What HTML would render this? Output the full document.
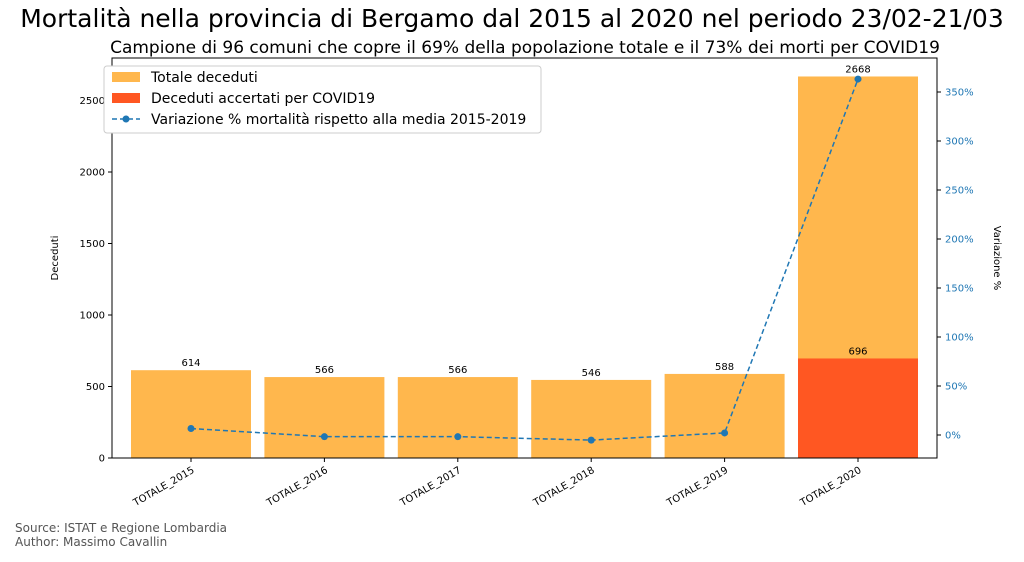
<!DOCTYPE html>
<html><head><meta charset="utf-8"><style>
body{margin:0;background:#fff;font-family:"Liberation Sans","DejaVu Sans",sans-serif}
svg text{font-family:"DejaVu Sans","Liberation Sans",sans-serif}
</style></head><body>
<svg width="1024" height="557" xmlns="http://www.w3.org/2000/svg" id="chart">
<text x="512" y="27" font-size="25" text-anchor="middle">Mortalità nella provincia di Bergamo dal 2015 al 2020 nel periodo 23/02-21/03</text>
<text x="525" y="53" font-size="17" text-anchor="middle">Campione di 96 comuni che copre il 69% della popolazione totale e il 73% dei morti per COVID19</text>
<g id="plot"></g>
<text transform="translate(58,258) rotate(-90)" font-size="10" text-anchor="middle">Deceduti</text>
<text transform="translate(994,258) rotate(90)" font-size="10" text-anchor="middle">Variazione %</text>
<text x="15" y="532" font-size="12" fill="#555">Source: ISTAT e Regione Lombardia</text>
<text x="15" y="546" font-size="12" fill="#555">Author: Massimo Cavallin</text>
<g>
<rect x="104" y="66" width="437" height="67" fill="#fff" stroke="#ccc" rx="3"/>
<rect x="112" y="72" width="28" height="10" fill="#ffb74d"/>
<text x="151" y="82" font-size="14">Totale deceduti</text>
<rect x="112" y="93" width="28" height="10" fill="#ff5722"/>
<text x="151" y="103" font-size="14">Deceduti accertati per COVID19</text>
<line x1="112" y1="119" x2="140" y2="119" stroke="#1f77b4" stroke-width="1.5" stroke-dasharray="5,3"/>
<circle cx="126" cy="119" r="3.5" fill="#1f77b4"/>
<text x="151" y="124" font-size="14">Variazione % mortalità rispetto alla media 2015-2019</text>
</g>
</svg>
<script>
const categories=["TOTALE_2015","TOTALE_2016","TOTALE_2017","TOTALE_2018","TOTALE_2019","TOTALE_2020"];
const totals=[614,566,566,546,588,2668];
const covid=[0,0,0,0,0,696];
const pctChange=[6.6,-1.7,-1.7,-5.2,2.1,363.2];
const leftTicks=[0,500,1000,1500,2000,2500];
const rightTicks=[0,50,100,150,200,250,300,350];
const NS="http://www.w3.org/2000/svg";
const L=112,R=937,T=58,B=458;
const y=v=>B-v*0.143;
const y2=p=>435-p*0.98;
const step=(R-L)/categories.length*0.97;
const x=i=>191+i*133.4;
const g=document.getElementById('plot');
function mk(t,a){const e=document.createElementNS(NS,t);for(const k in a)e.setAttribute(k,a[k]);g.appendChild(e);return e;}
totals.forEach((v,i)=>{
 const r=mk('rect',{x:x(i)-60,y:y(v),width:120,height:B-y(v),fill:'#ffb74d'});
 
 
 const t=mk('text',{x:x(i),y:y(v)-4,'font-size':10,'text-anchor':'middle'});t.textContent=v;
 
 
 if(covid[i]>0){
  const c=mk('rect',{x:x(i)-60,y:y(covid[i]),width:120,height:B-y(covid[i]),fill:'#ff5722'});
  
  
  const ct=mk('text',{x:x(i),y:y(covid[i])-4,'font-size':10,'text-anchor':'middle'});ct.textContent=covid[i];
  
  
 }
 const tk=mk('line',{x1:x(i),x2:x(i),y1:B,y2:B+4,stroke:'#000'});
 const lb=mk('text',{transform:`translate(${x(i)+4},${B+14}) rotate(-30)`,'font-size':10,'text-anchor':'end'});lb.textContent=categories[i];
 
 
});
const frame=mk('rect',{x:L,y:T,width:R-L,height:B-T,fill:'none',stroke:'#000','stroke-width':1});


leftTicks.forEach(v=>{
 mk('line',{x1:L-4,x2:L,y1:y(v),y2:y(v),stroke:'#000'});
 const t=mk('text',{x:L-7,y:y(v)+3.5,'font-size':10,'text-anchor':'end'});t.textContent=v;
 
 
});
rightTicks.forEach(p=>{
 mk('line',{x1:R,x2:R+4,y1:y2(p),y2:y2(p),stroke:'#000'});
 const t=mk('text',{x:R+8,y:y2(p)+3.5,'font-size':10,fill:'#1f77b4'});t.textContent=p+'%';
 
 
});
const pts=pctChange.map((p,i)=>x(i)+','+y2(p)).join(' ');
const pl=mk('polyline',{points:pts,fill:'none',stroke:'#1f77b4','stroke-width':1.5,'stroke-dasharray':'5,3'});


pctChange.forEach((p,i)=>{
 const c=mk('circle',{cx:x(i),cy:y2(p),r:3.5,fill:'#1f77b4'});
 
 
});
</script>
</body></html>
